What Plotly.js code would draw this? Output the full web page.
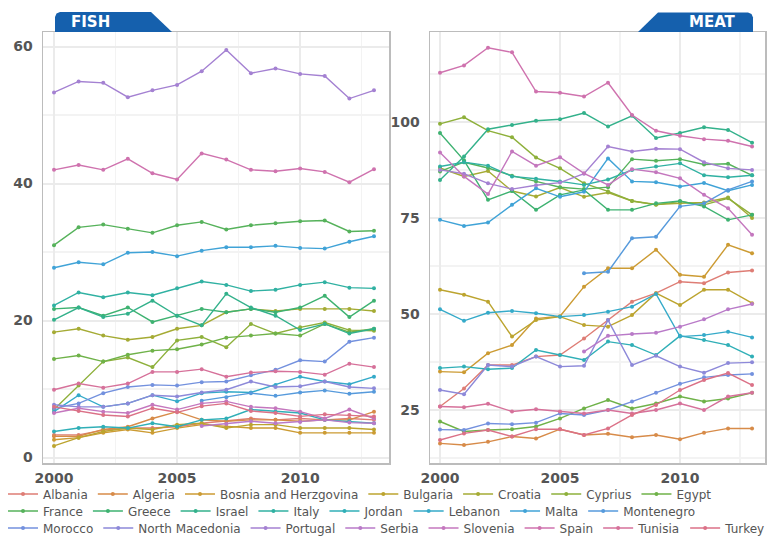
<!DOCTYPE html>
<html>
<head>
<meta charset="utf-8">
<script src="https://cdn.plot.ly/plotly-3.0.1.min.js"></script>
<style>
  html, body { margin: 0; padding: 0; background: #ffffff; }
  #chart { width: 767px; height: 539px; }
</style>
</head>
<body>
<div id="chart"></div>
<script>
// Years shown on both panels
const years = [2000, 2001, 2002, 2003, 2004, 2005, 2006, 2007, 2008, 2009, 2010, 2011, 2012, 2013];

const countries = ['Albania', 'Algeria', 'Bosnia and Herzgovina', 'Bulgaria', 'Croatia', 'Cyprius', 'Egypt',
  'France', 'Greece', 'Israel', 'Italy', 'Jordan', 'Lebanon', 'Malta', 'Montenegro',
  'Morocco', 'North Macedonia', 'Portugal', 'Serbia', 'Slovenia', 'Spain', 'Tunisia', 'Turkey'];

// Fish supply (kg per capita per year)
const fishAlbania    = [3.3, 3.3, 4.0, 4.3, 4.3, 4.5, 5.0, 5.3, 5.7, 5.5, 5.7, 5.5, 5.7, 5.5];
const fishAlgeria    = [3.1, 3.1, 4.1, 4.5, 5.7, 6.7, 5.5, 5.3, 5.5, 5.5, 5.3, 5.5, 5.5, 6.7];
const fishBosnia     = [2.6, 2.9, 3.6, 4.1, 3.6, 4.3, 4.8, 4.5, 4.3, 4.3, 3.6, 3.6, 3.6, 3.6];
const fishBulgaria   = [1.7, 2.9, 3.8, 4.3, 4.1, 4.8, 5.0, 4.3, 4.8, 4.8, 4.3, 4.3, 4.3, 4.1];
const fishCroatia    = [18.3, 18.8, 17.8, 17.2, 17.6, 18.8, 19.3, 21.2, 21.7, 21.4, 21.7, 21.7, 21.7, 21.4];
const fishCyprius    = [7.0, 10.5, 14.0, 14.6, 13.2, 17.1, 17.6, 16.1, 19.5, 18.1, 19.0, 19.7, 18.6, 18.5];
const fishEgypt      = [14.4, 14.9, 14.0, 15.0, 15.6, 15.8, 16.5, 17.5, 17.8, 18.1, 17.8, 19.5, 18.3, 18.8];
const fishFrance     = [31.0, 33.6, 34.0, 33.4, 32.8, 33.9, 34.4, 33.3, 33.9, 34.2, 34.5, 34.6, 33.0, 33.1];
const fishGreece     = [21.7, 21.9, 20.7, 21.9, 19.8, 20.7, 21.7, 21.2, 21.7, 21.2, 21.9, 23.6, 20.5, 22.9];
const fishIsrael     = [20.1, 21.9, 20.5, 21.0, 22.9, 20.7, 19.3, 23.9, 21.9, 20.7, 18.6, 19.5, 18.1, 18.8];
const fishItaly      = [22.2, 24.1, 23.4, 24.1, 23.7, 24.7, 25.7, 25.2, 24.3, 24.5, 25.2, 25.6, 24.8, 24.7];
const fishJordan     = [3.8, 4.3, 4.5, 4.3, 5.0, 4.5, 5.5, 5.7, 7.0, 6.7, 6.5, 5.5, 5.3, 5.0];
const fishLebanon    = [6.7, 9.1, 7.4, 7.9, 9.1, 8.2, 9.4, 9.6, 9.5, 10.6, 11.8, 11.1, 10.7, 11.8];
const fishMalta      = [27.7, 28.5, 28.2, 29.9, 30.0, 29.4, 30.2, 30.7, 30.7, 30.9, 30.6, 30.5, 31.5, 32.3];
const fishMontenegro = [null, null, null, null, null, null, 8.3, 8.8, 9.4, 9.0, 9.5, 9.8, 9.3, 9.6];
const fishMorocco    = [7.2, 7.9, 9.4, 10.3, 10.6, 10.5, 11.0, 11.1, 12.0, 12.8, 14.2, 14.0, 16.9, 17.5];
const fishMacedonia  = [7.7, 7.4, 7.4, 7.9, 9.1, 8.9, 9.5, 9.9, 11.1, 10.3, 10.4, 11.1, 10.3, 10.1];
const fishPortugal   = [53.3, 54.9, 54.7, 52.6, 53.6, 54.4, 56.4, 59.5, 56.1, 56.8, 56.0, 55.7, 52.4, 53.6];
const fishSerbia     = [null, null, null, null, null, null, 4.6, 4.9, 5.3, 5.0, 5.2, 5.5, 5.1, 5.0];
const fishSlovenia   = [6.5, 7.2, 6.7, 6.5, 7.7, 7.0, 7.9, 8.2, 7.4, 7.2, 6.7, 5.7, 7.0, 5.7];
const fishSpain      = [42.0, 42.7, 42.0, 43.6, 41.5, 40.6, 44.4, 43.5, 42.0, 41.8, 42.2, 41.7, 40.2, 42.1];
const fishTunisia    = [9.9, 10.8, 10.2, 10.8, 12.5, 12.5, 12.9, 11.8, 12.4, 12.6, 12.5, 12.1, 13.7, 13.2];
const fishTurkey     = [7.4, 6.8, 6.2, 6.0, 7.2, 6.6, 7.5, 7.9, 6.8, 6.5, 6.0, 6.3, 6.2, 6.0];

// Meat supply (kg per capita per year)
const meatAlbania    = [25.9, 30.6, 36.7, 36.7, 38.9, 39.3, 43.6, 48.4, 53.2, 55.4, 58.4, 58.0, 60.8, 61.3];
const meatAlgeria    = [16.3, 15.9, 16.7, 18.1, 17.6, 20.0, 18.5, 18.8, 17.9, 18.5, 17.4, 19.1, 20.2, 20.2];
const meatBosnia     = [35.0, 34.8, 39.8, 41.9, 48.8, 49.4, 57.1, 61.9, 61.9, 66.7, 60.2, 59.7, 68.0, 65.8];
const meatBulgaria   = [56.3, 55.0, 53.2, 44.1, 48.4, 49.3, 47.1, 46.7, 49.7, 55.4, 52.3, 56.3, 56.3, 52.8];
const meatCroatia    = [88.0, 85.8, 87.2, 82.0, 80.6, 82.9, 80.5, 81.6, 79.4, 78.5, 78.8, 79.0, 80.3, 75.0];
const meatCyprius    = [99.5, 101.2, 97.7, 96.0, 90.7, 87.9, 84.0, 81.9, 79.4, 78.4, 79.3, 78.4, 80.1, 75.8];
const meatEgypt      = [22.0, 19.4, 19.8, 20.0, 20.7, 22.8, 25.4, 27.6, 25.4, 26.7, 28.5, 27.2, 28.0, 29.5];
const meatFrance     = [87.1, 89.5, 88.0, 86.0, 84.5, 83.0, 82.5, 83.0, 90.3, 89.9, 90.3, 88.9, 89.1, 86.1];
const meatGreece     = [97.1, 90.0, 79.7, 82.0, 77.1, 81.0, 82.3, 77.1, 77.1, 78.8, 79.4, 78.0, 74.5, 75.8];
const meatIsrael     = [84.9, 91.0, 98.1, 99.2, 100.3, 100.7, 102.3, 98.8, 101.6, 95.8, 97.1, 98.6, 97.9, 94.6];
const meatItaly      = [88.4, 89.5, 88.6, 85.8, 85.2, 84.5, 83.6, 85.0, 87.5, 88.4, 89.2, 86.1, 85.6, 86.1];
const meatJordan     = [35.9, 36.3, 35.6, 35.9, 40.6, 39.3, 38.0, 42.8, 41.9, 39.3, 44.3, 43.2, 41.9, 38.9];
const meatLebanon    = [51.2, 48.2, 50.3, 50.8, 50.2, 49.3, 49.7, 50.6, 51.9, 55.2, 44.1, 44.5, 45.4, 43.9];
const meatMalta      = [74.5, 72.9, 73.8, 78.4, 82.7, 80.5, 81.8, 90.5, 84.5, 84.3, 83.2, 84.1, 82.1, 83.6];
const meatMontenegro = [null, null, null, null, null, null, 60.6, 61.0, 69.7, 70.1, 78.0, 78.8, 82.3, 84.5];
const meatMorocco    = [19.9, 19.8, 21.5, 21.3, 21.7, 24.1, 23.7, 25.0, 27.2, 29.5, 31.8, 33.5, 34.1, 34.4];
const meatMacedonia  = [30.2, 29.1, 36.7, 36.3, 38.9, 36.3, 36.5, 48.4, 36.7, 39.1, 36.3, 34.7, 37.2, 37.4];
const meatPortugal   = [87.5, 86.5, 84.0, 82.5, 83.5, 84.2, 86.5, 93.6, 92.3, 93.0, 92.9, 89.5, 87.9, 87.5];
const meatSerbia     = [null, null, null, null, null, null, 40.2, 44.3, 44.8, 45.1, 46.7, 48.6, 51.2, 52.6];
const meatSlovenia   = [92.0, 85.8, 81.2, 92.3, 88.6, 90.8, 86.6, 83.6, 87.7, 86.9, 85.3, 81.0, 77.5, 70.6];
const meatSpain      = [112.8, 114.7, 119.3, 118.1, 107.9, 107.6, 106.6, 110.2, 101.8, 97.7, 96.4, 95.5, 95.1, 93.6];
const meatTunisia    = [25.9, 25.7, 26.6, 24.6, 25.2, 24.6, 24.1, 25.0, 24.1, 25.0, 26.7, 25.0, 28.5, 29.5];
const meatTurkey     = [17.2, 18.9, 19.8, 18.1, 20.0, 20.0, 18.5, 20.2, 23.7, 26.3, 30.2, 32.8, 34.6, 31.5];

const fishSeries = [fishAlbania, fishAlgeria, fishBosnia, fishBulgaria, fishCroatia, fishCyprius, fishEgypt,
  fishFrance, fishGreece, fishIsrael, fishItaly, fishJordan, fishLebanon, fishMalta, fishMontenegro,
  fishMorocco, fishMacedonia, fishPortugal, fishSerbia, fishSlovenia, fishSpain, fishTunisia, fishTurkey];
const meatSeries = [meatAlbania, meatAlgeria, meatBosnia, meatBulgaria, meatCroatia, meatCyprius, meatEgypt,
  meatFrance, meatGreece, meatIsrael, meatItaly, meatJordan, meatLebanon, meatMalta, meatMontenegro,
  meatMorocco, meatMacedonia, meatPortugal, meatSerbia, meatSlovenia, meatSpain, meatTunisia, meatTurkey];

// One softened hue per country, going round the colour wheel
const palette = ['#de7d75', '#d78b49', '#cc9b33', '#bca42f', '#a5ab34', '#8eb03b', '#6fb249',
  '#56b25b', '#3eb271', '#33b18b', '#30b1a2', '#30afb7', '#35aac9', '#40a3d7', '#569adc',
  '#7391de', '#8d89d9', '#a481d2', '#b97ac8', '#c477be', '#cf72ae', '#d6719a', '#db7187'];

const W = 767, H = 539;
const px = x => x / W;
const py = y => 1 - y / H;

function legendFor(i) {
  if (i < 7) return 'legend';
  if (i < 15) return 'legend2';
  return 'legend3';
}

const traces = [];
countries.forEach((name, i) => {
  const style = {
    type: 'scatter', mode: 'lines+markers', name: name, legendgroup: name,
    line: { color: palette[i], width: 1.4 },
    marker: { color: palette[i], size: 4 },
    connectgaps: false
  };
  traces.push(Object.assign({}, style, {
    x: years, y: fishSeries[i], xaxis: 'x', yaxis: 'y', legend: legendFor(i), showlegend: true
  }));
  traces.push(Object.assign({}, style, {
    x: years, y: meatSeries[i], xaxis: 'x2', yaxis: 'y2', showlegend: false
  }));
});

const tickFont = { family: 'DejaVu Sans', size: 14, color: '#555555', weight: 'bold' };

function xAxis(domain, range, anchor) {
  return {
    domain: domain, range: range, anchor: anchor,
    tick0: 2000, dtick: 5, ticks: '', ticklabelstandoff: 2,
    tickfont: tickFont,
    showgrid: true, gridcolor: '#ebebeb', gridwidth: 2,
    minor: { dtick: 2.5, tick0: 2000, showgrid: true, gridcolor: '#f3f3f3', gridwidth: 1.5 },
    showline: true, mirror: true, linecolor: '#bcbcbc', linewidth: 1.5,
    zeroline: false, fixedrange: true
  };
}
function yAxis(range, dtick, minorTick, anchor) {
  return {
    domain: [py(463), py(32)], range: range, anchor: anchor,
    tick0: 0, dtick: dtick, ticks: '', ticklabelstandoff: 6,
    tickfont: tickFont,
    showgrid: true, gridcolor: '#ebebeb', gridwidth: 2,
    minor: { dtick: minorTick, tick0: 0, showgrid: true, gridcolor: '#f3f3f3', gridwidth: 1.5 },
    showline: true, mirror: true, linecolor: '#bcbcbc', linewidth: 1.5,
    zeroline: false, fixedrange: true
  };
}

const legendFont = { family: 'DejaVu Sans', size: 12, color: '#555555' };
function legendRow(y) {
  return {
    orientation: 'h', x: px(3), xanchor: 'left', y: py(y), yanchor: 'middle',
    bgcolor: 'rgba(0,0,0,0)', borderwidth: 0, font: legendFont, traceorder: 'normal'
  };
}

// Panel tabs drawn as paths in paper coordinates
function pathFrom(points) {
  return 'M ' + points.map(p => px(p[0]).toFixed(5) + ',' + py(p[1]).toFixed(5)).join(' L ') + ' Z';
}
const tabColor = '#1560ad';
const fishTab = pathFrom([[55, 32], [55, 17], [56.5, 13.5], [60, 12], [151, 12], [172, 32]]);
const meatTab = pathFrom([[638, 32], [658, 12.5], [748, 12.5], [751.5, 14], [753, 17.5], [753, 32]]);

const layout = {
  width: W, height: H,
  margin: { l: 0, r: 0, t: 0, b: 0, autoexpand: false },
  paper_bgcolor: '#ffffff', plot_bgcolor: '#ffffff',
  font: { family: 'DejaVu Sans', size: 12, color: '#555555' },
  showlegend: true,
  xaxis: xAxis([px(43), px(389)], [1999.553, 2013.61], 'y'),
  yaxis: yAxis([-0.8, 62.12], 20, 10, 'x'),
  xaxis2: xAxis([px(430), px(765)], [1999.583, 2013.54], 'y2'),
  yaxis2: yAxis([11.2, 123.4], 25, 12.5, 'x2'),
  legend: legendRow(494),
  legend2: legendRow(511),
  legend3: legendRow(528),
  shapes: [
    { type: 'path', xref: 'paper', yref: 'paper', path: fishTab, fillcolor: tabColor, line: { width: 0 }, layer: 'above' },
    { type: 'path', xref: 'paper', yref: 'paper', path: meatTab, fillcolor: tabColor, line: { width: 0 }, layer: 'above' }
  ],
  annotations: [
    { text: 'FISH', xref: 'paper', yref: 'paper', x: px(90), y: py(22), xanchor: 'center', yanchor: 'middle',
      showarrow: false, font: { family: 'DejaVu Sans', size: 15, color: '#ffffff', weight: 'bold' } },
    { text: 'MEAT', xref: 'paper', yref: 'paper', x: px(712), y: py(22), xanchor: 'center', yanchor: 'middle',
      showarrow: false, font: { family: 'DejaVu Sans', size: 15, color: '#ffffff', weight: 'bold' } }
  ]
};

Plotly.newPlot('chart', traces, layout, { staticPlot: true, displayModeBar: false });
</script>
</body>
</html>
